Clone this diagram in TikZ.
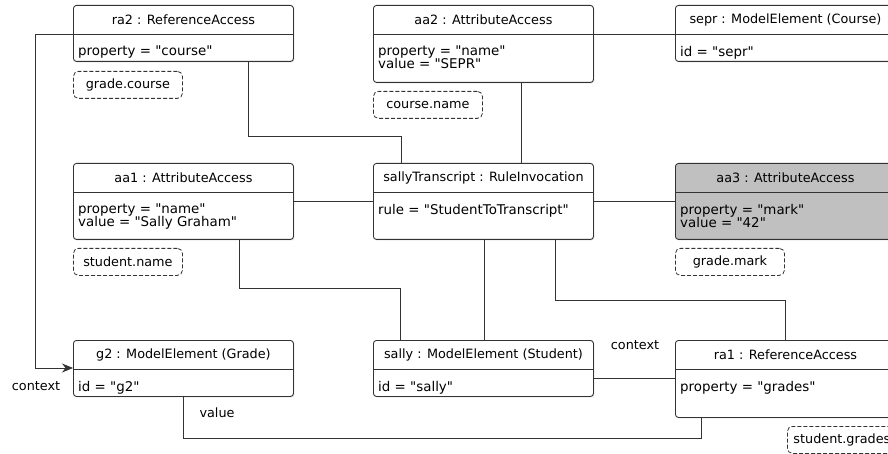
\documentclass[tikz,border=0pt]{standalone}
\usepackage{fontspec}
\setmainfont{DejaVu Sans}[Ligatures=TeXOff]
\usetikzlibrary{arrows.meta,shadows}
\definecolor{ln}{HTML}{333333}
\definecolor{grayfill}{HTML}{C0C0C0}
\tikzset{
  umlbox/.style={draw=ln, line width=0.9pt, rounded corners=3pt, minimum width=220pt, anchor=north west, inner sep=0pt,
    drop shadow={opacity=0.25, shadow xshift=1pt, shadow yshift=-1pt}},
  divline/.style={draw=ln, line width=0.8pt},
  txt/.style={font=\fontsize{12.8}{13}\selectfont, inner sep=0pt, text=black},
  atxt/.style={font=\fontsize{13.4}{13}\selectfont, inner sep=0pt, text=black},
  note/.style={draw=ln, line width=0.8pt, dash pattern=on 4pt off 2pt, rounded corners=5pt, minimum width=109pt, minimum height=27pt,
    anchor=north west, inner sep=0pt, font=\fontsize{12.8}{13}\selectfont},
  conn/.style={draw=ln, line width=0.8pt},
  lbl/.style={font=\fontsize{12.8}{13}\selectfont, inner sep=0pt}
}
\newcommand\umlobj[7]{%
  \node[umlbox, minimum height=#4, fill=#7] (#1) at (#2,#3) {};
  \draw[divline] ([yshift=-29pt]#1.north west) -- ([yshift=-29pt]#1.north east);
  \node[txt] (#1-t) at ([yshift=-15pt]#1.north) {#5};
  \node[atxt, anchor=north west, align=left] (#1-a) at ([xshift=5pt,yshift=-41pt]#1.north west) {#6};
}
\begin{document}
\begin{tikzpicture}[x=1pt,y=-1pt]
\clip (0,0) rectangle (888,454);
\fill[white] (0,0) rectangle (888,454);
% objects
\umlobj{ra2}{73}{5}{56}{ra2 : ReferenceAccess}{property = "course"}{white}
\umlobj{aa2}{373}{5}{77}{aa2 : AttributeAccess}{property = "name"\\value = "SEPR"}{white}
\umlobj{sepr}{675}{5}{56}{sepr : ModelElement (Course)}{id = "sepr"}{white}
\umlobj{aa1}{73}{163}{76}{aa1 : AttributeAccess}{property = "name"\\value = "Sally Graham"}{white}
\umlobj{sT}{373}{163}{76}{sallyTranscript : RuleInvocation}{rule = "StudentToTranscript"}{white}
\umlobj{aa3}{675}{163}{76}{aa3 : AttributeAccess}{property = "mark"\\value = "42"}{grayfill}
\umlobj{g2}{73}{340}{56}{g2 : ModelElement (Grade)}{id = "g2"}{white}
\umlobj{sally}{373}{340}{56}{sally : ModelElement (Student)}{id = "sally"}{white}
\umlobj{ra1}{675}{340}{77}{ra1 : ReferenceAccess}{property = "grades"}{white}
% notes
\node[note] (n1) at (73,71) {grade.course};
\node[note] (n2) at (373,91) {course.name};
\node[note] (n3) at (73,248) {student.name};
\node[note] (n4) at (675,248) {grade.mark};
\node[note] (n5) at (787,426) {student.grades};
% connectors
\draw[conn, -{Stealth[length=11pt,width=9pt]}] ([yshift=-29pt]ra2.north west) -- ++(-38,0) |- ([yshift=-28pt]g2.north west);
\draw[conn] (ra2.south -| 248,0) -- ++(0,75) -| (sT.north -| 401,0);
\draw[conn] ([yshift=-29pt]aa2.north east) -- ([yshift=-29pt]sepr.north west);
\draw[conn] (aa2.south -| 521,0) -- (sT.north -| 521,0);
\draw[conn] ([yshift=-38pt]aa1.north east) -- ([yshift=-38pt]sT.north west);
\draw[conn] ([yshift=-38pt]sT.north east) -- ([yshift=-38pt]aa3.north west);
\draw[conn] (aa1.south -| 239,0) -- ++(0,48) -| (sally.north -| 400,0);
\draw[conn] (sT.south -| 484,0) -- (sally.north -| 484,0);
\draw[conn] (sT.south -| 555,0) -- ++(0,60) -| (ra1.north -| 785,0);
\draw[conn] ([yshift=-38pt]sally.north east) -- ([yshift=-38pt]ra1.north west);
\draw[conn] (g2.south -| 183,0) -- ++(0,41) -| (ra1.south -| 701,0);
% labels
\node[lbl] (l1) at (36,386) {context};
\node[lbl] (l2) at (635,345) {context};
\node[lbl] (l3) at (217,413) {value};
\end{tikzpicture}
\end{document}
